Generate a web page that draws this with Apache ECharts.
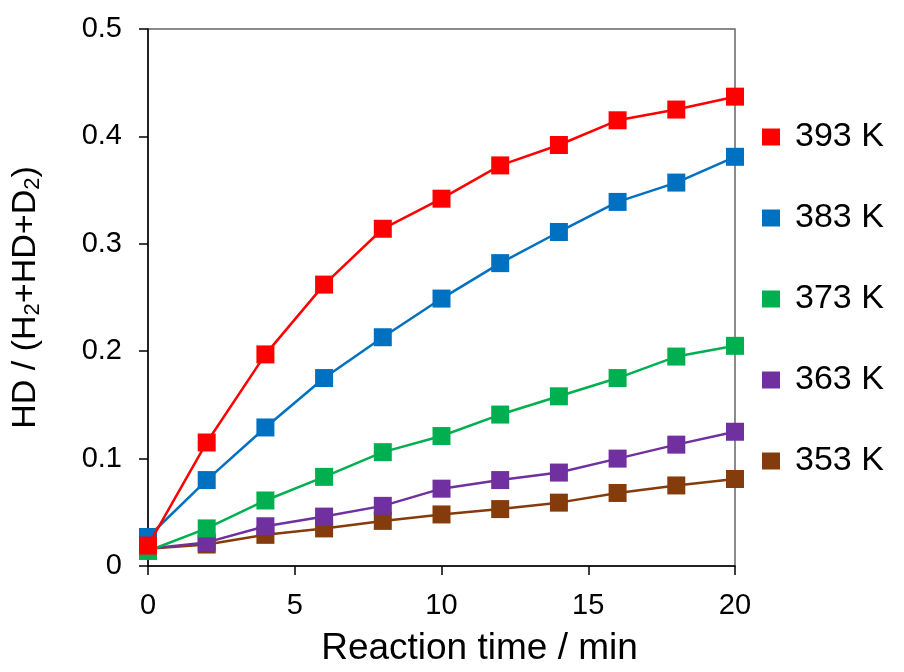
<!DOCTYPE html>
<html>
<head>
<meta charset="utf-8">
<script src="https://cdn.jsdelivr.net/npm/echarts@6/dist/echarts.min.js"></script>
<style>html,body{margin:0;padding:0;background:#fff;}#c{width:904px;height:672px;}</style>
</head>
<body>
<div id="c"></div>
<script>
const times = [0, 2, 4, 6, 8, 10, 12, 14, 16, 18, 20];
const seriesNames = ['393 K', '383 K', '373 K', '363 K', '353 K'];
const k393 = [0.019, 0.115, 0.197, 0.262, 0.314, 0.342, 0.373, 0.392, 0.415, 0.425, 0.437];
const k383 = [0.027, 0.080, 0.129, 0.175, 0.213, 0.249, 0.282, 0.311, 0.339, 0.357, 0.381];
const k373 = [0.014, 0.035, 0.061, 0.083, 0.106, 0.121, 0.141, 0.158, 0.175, 0.195, 0.205];
const k363 = [0.016, 0.022, 0.037, 0.046, 0.056, 0.072, 0.080, 0.087, 0.100, 0.113, 0.125];
const k353 = [0.016, 0.020, 0.029, 0.035, 0.042, 0.048, 0.053, 0.059, 0.068, 0.075, 0.081];
const colors = ['#ff0000', '#0070c0', '#00b050', '#7030a0', '#843c0c'];
const xTicks = [0, 5, 10, 15, 20];
const yTicks = [0, 0.1, 0.2, 0.3, 0.4, 0.5];

const allValues = [k393, k383, k373, k363, k353];
const font = 'Liberation Sans, Arial, sans-serif';
const chart = echarts.init(document.getElementById('c'));
const series = seriesNames.map((n, i) => ({
  name: n,
  type: 'line',
  data: times.map((t, j) => [t, allValues[i][j]]),
  symbol: 'rect',
  symbolSize: 18,
  lineStyle: { width: 2.5, color: colors[i] },
  itemStyle: { color: colors[i] },
  z: 10 - i
}));
chart.setOption({
  animation: false,
  backgroundColor: '#fff',
  textStyle: { fontFamily: font },
  grid: { left: 148, right: 169, top: 29, bottom: 103, show: true, borderColor: '#666', borderWidth: 1.5, backgroundColor: 'transparent' },
  legend: {
    orient: 'vertical', left: 757, top: 115,
    icon: 'rect', itemWidth: 18, itemHeight: 17, itemGap: 47,
    textStyle: { fontSize: 34, color: '#000', fontFamily: font, padding: [0, 0, 0, 10] },
    data: seriesNames
  },
  xAxis: {
    type: 'value', min: 0, max: 20, interval: 5,
    name: 'Reaction time / min', nameLocation: 'middle', nameGap: 64,
    nameTextStyle: { fontSize: 37, color: '#000', fontFamily: font, padding: [0, 0, 0, 76] },
    axisLine: { show: true, onZero: false, lineStyle: { color: '#000', width: 1.5 } },
    axisTick: { show: true, length: 9, lineStyle: { color: '#000', width: 1.5 } },
    axisLabel: { fontSize: 29, color: '#000', margin: 25, fontFamily: font,
      formatter: v => xTicks.includes(v) ? String(v) : '' },
    splitLine: { show: false }
  },
  yAxis: {
    type: 'value', min: 0, max: 0.5, interval: 0.1,
    name: '{n|HD / (H}{s|2}{n|+HD+D}{s|2}{n|)}', nameLocation: 'middle', nameGap: 104, nameRotate: 90,
    nameTextStyle: { rich: {
      n: { fontSize: 34, color: '#000', fontFamily: font },
      s: { fontSize: 22, color: '#000', fontFamily: font, verticalAlign: 'bottom', padding: [15, 0, 0, 0] }
    } },
    axisLine: { show: true, onZero: false, lineStyle: { color: '#000', width: 1.5 } },
    axisTick: { show: true, length: 9, lineStyle: { color: '#000', width: 1.5 } },
    axisLabel: { fontSize: 29, color: '#000', margin: 26, fontFamily: font,
      formatter: v => { const t = yTicks.find(y => Math.abs(y - v) < 1e-9); return t === undefined ? '' : (t === 0 ? '0' : t.toFixed(1)); } },
    splitLine: { show: false }
  },
  series: series
});
</script>
</body>
</html>
